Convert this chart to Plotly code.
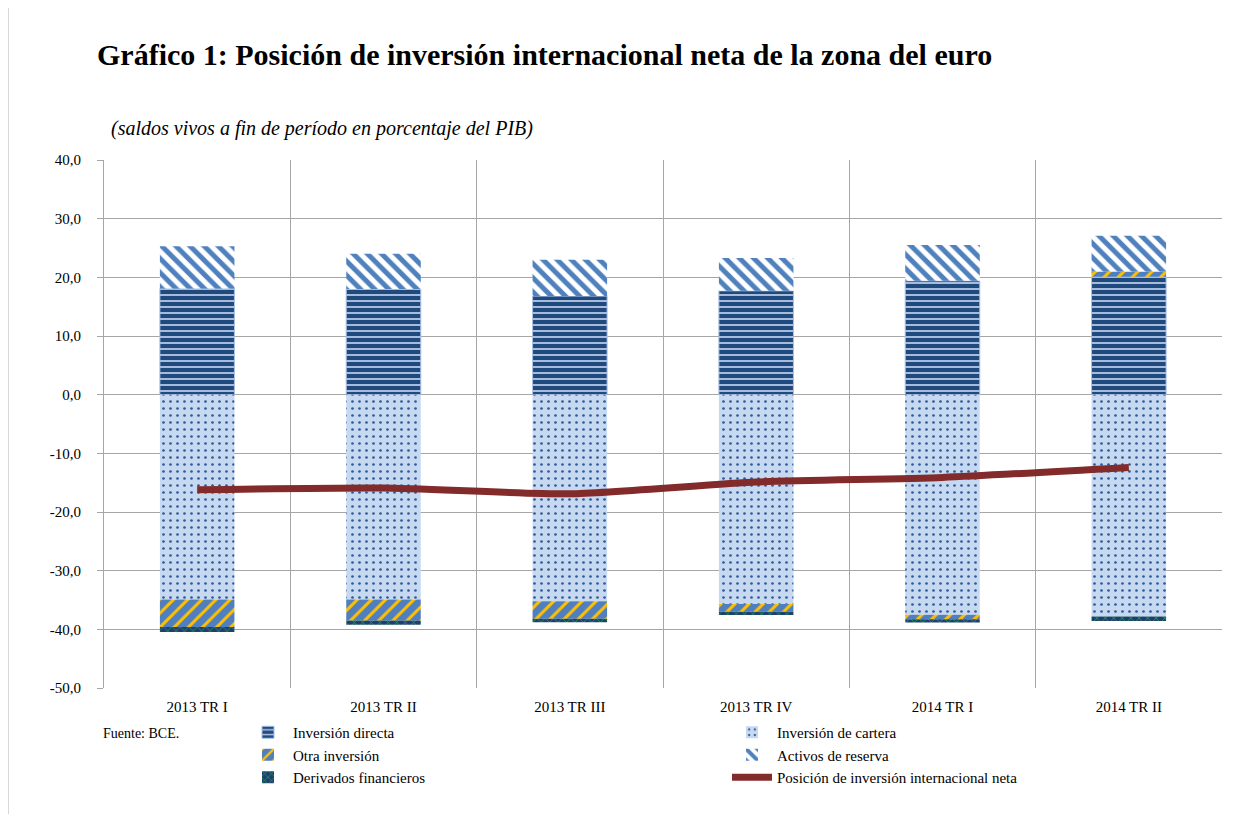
import plotly.graph_objects as go

categories = ["2013 TR I", "2013 TR II", "2013 TR III", "2013 TR IV", "2014 TR I", "2014 TR II"]
inversion_directa = [18.1, 18.0, 16.8, 17.7, 19.4, 20.1]
inversion_cartera = [-34.9, -34.9, -35.2, -35.7, -37.5, -37.8]
otra_inversion = [-4.7, -3.6, -3.0, -1.3, -0.8, 0.9]
activos_reserva = [7.2, 6.0, 6.2, 5.6, 6.1, 6.1]
derivados_financieros = [-0.85, -0.7, -0.6, -0.55, -0.55, -0.8]
posicion_neta = [-16.2, -15.9, -16.9, -14.9, -14.1, -12.4]
y_ticks = [-50, -40, -30, -20, -10, 0, 10, 20, 30, 40]
y_tick_labels = ["-50,0", "-40,0", "-30,0", "-20,0", "-10,0", "0,0", "10,0", "20,0", "30,0", "40,0"]

FONT = "Liberation Serif"
GRID = "#A6A6A6"

xpos = list(range(len(categories)))

# The page body adds an 8px offset; work in screen pixels and convert.
OFF = 8
W, H = 1236 - OFF, 814 - OFF
L, R, T, B = 104 - OFF, 14, 160 - OFF, 126
pw, ph = W - L - R, H - T - B


def px_x(p):  # screen pixel -> paper x
    return (p - OFF - L) / pw


def px_y(p):  # screen pixel -> paper y
    return (H - B - (p - OFF)) / ph


fig = go.Figure()


def add_bar(name, y, bg, fg, shape, size, solidity, legend, edge=None):
    fig.add_trace(go.Bar(
        x=xpos, y=y, name=name, legend=legend,
        marker=dict(
            color=bg,
            line=dict(color=edge if edge else bg, width=1 if edge else 0),
            pattern=dict(shape=shape, bgcolor=bg, fgcolor=fg, size=size,
                         solidity=solidity, fillmode="replace"),
        ),
        hoverinfo="y+name",
    ))


add_bar("Inversión directa", inversion_directa, "#1F4A7E", "#B9C8E8", "-", 6, 0.3, "legend", edge="#A9BFE4")
add_bar("Inversión de cartera", inversion_cartera, "#C6D9F1", "#2E5A9A", ".", 7, 0.12, "legend2")
add_bar("Otra inversión", otra_inversion, "#4F7FC0", "#FFC000", "/", 10, 0.3, "legend")
add_bar("Activos de reserva", activos_reserva, "#FFFFFF", "#4F81BD", "\\", 10, 0.5, "legend2")
add_bar("Derivados financieros", derivados_financieros, "#1F3F6E", "#22A055", "x", 6, 0.25, "legend")

fig.add_trace(go.Scatter(
    x=xpos, y=posicion_neta, name="Posición de inversión internacional neta",
    mode="lines", line=dict(color="#832B2B", width=7, shape="spline", smoothing=0.6),
    legend="legend2",
))

legend_common = dict(
    xanchor="left", yanchor="top",
    orientation="v", traceorder="normal", tracegroupgap=0,
    bgcolor="rgba(0,0,0,0)", font=dict(family=FONT, size=15),
    itemwidth=40,
)

fig.update_layout(
    width=W, height=H,
    margin=dict(l=L, r=R, t=T, b=B),
    paper_bgcolor="white", plot_bgcolor="white",
    barmode="relative", bargap=0.6,
    font=dict(family=FONT, size=14, color="black"),
    title=dict(
        text="<b>Gráfico 1: Posición de inversión internacional neta de la zona del euro</b>",
        x=(97 - OFF) / W, xanchor="left", xref="container",
        y=1 - (54 - OFF) / H, yanchor="middle", yref="container",
        font=dict(family=FONT, size=30, color="black"),
    ),
    xaxis=dict(
        range=[-0.5, len(categories) - 0.5],
        tickvals=xpos, ticktext=categories,
        showgrid=False, zeroline=False, showline=False, ticks="",
        ticklabelstandoff=8,
        tickfont=dict(family=FONT, size=15),
        minor=dict(tickvals=[i + 0.5 for i in xpos[:-1]], showgrid=True,
                   gridcolor=GRID, gridwidth=1, ticks=""),
        fixedrange=True,
    ),
    yaxis=dict(
        range=[y_ticks[0], y_ticks[-1]],
        tickvals=y_ticks, ticktext=y_tick_labels,
        showgrid=True, gridcolor=GRID, gridwidth=1,
        zeroline=False, showline=True, linecolor=GRID, linewidth=1,
        ticks="outside", ticklen=6, tickcolor=GRID,
        ticklabelstandoff=13,
        tickfont=dict(family=FONT, size=15),
        fixedrange=True,
    ),
    legend=dict(x=px_x(243), y=px_y(716), **legend_common),
    legend2=dict(x=px_x(727), y=px_y(716), **legend_common),
    showlegend=True,
)

fig.add_annotation(
    text="<i>(saldos vivos a fin de período en porcentaje del PIB)</i>",
    xref="paper", yref="paper", x=px_x(109), y=px_y(128),
    xanchor="left", yanchor="middle", showarrow=False,
    font=dict(family=FONT, size=20, color="black"),
)
fig.add_annotation(
    text="Fuente: BCE.",
    xref="paper", yref="paper", x=px_x(101), y=px_y(733),
    xanchor="left", yanchor="middle", showarrow=False,
    font=dict(family=FONT, size=14, color="black"),
)

# outer frame line on the left
fig.add_shape(type="line", xref="paper", yref="paper",
              x0=px_x(8), x1=px_x(8), y0=px_y(OFF), y1=px_y(814),
              line=dict(color="#B0B0B0", width=1))

fig.write_html("out.html")
